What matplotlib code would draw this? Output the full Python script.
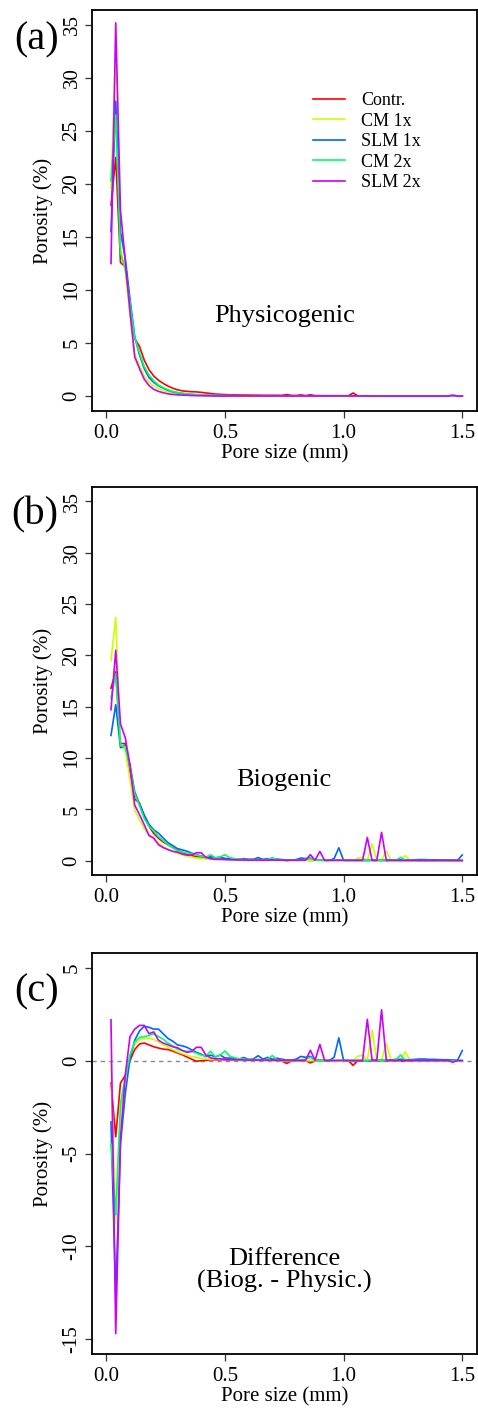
import numpy as np
import matplotlib
matplotlib.use("Agg")
import matplotlib.pyplot as plt

plt.rcParams['font.family'] = ['Liberation Serif', 'DejaVu Serif']
plt.rcParams['axes.unicode_minus'] = False

# pore size classes (mm)
pore_size = [0.02, 0.04, 0.06, 0.08, 0.10, 0.12, 0.14, 0.16, 0.18, 0.20,
             0.22, 0.24, 0.26, 0.28, 0.30, 0.32, 0.34, 0.36, 0.38, 0.40,
             0.42, 0.44, 0.46, 0.48, 0.50, 0.52, 0.54, 0.56, 0.58, 0.60,
             0.62, 0.64, 0.66, 0.68, 0.70, 0.72, 0.74, 0.76, 0.78, 0.80,
             0.82, 0.84, 0.86, 0.88, 0.90, 0.92, 0.94, 0.96, 0.98, 1.00,
             1.02, 1.04, 1.06, 1.08, 1.10, 1.12, 1.14, 1.16, 1.18, 1.20,
             1.22, 1.24, 1.26, 1.28, 1.30, 1.32, 1.34, 1.36, 1.38, 1.40,
             1.42, 1.44, 1.46, 1.48, 1.50]

treatments = ['Contr.', 'CM 1x', 'SLM 1x', 'CM 2x', 'SLM 2x']
colors = ['#FF0000', '#CCFF00', '#0066FF', '#00FF66', '#CC00FF']

# physicogenic porosity (%)
phys_contr = [18.0, 22.5, 12.6, 12.2, 8.6, 5.4, 4.7, 3.4, 2.5, 1.9,
              1.5, 1.2, 0.95, 0.75, 0.6, 0.5, 0.45, 0.42, 0.4, 0.36,
              0.3, 0.25, 0.2, 0.17, 0.15,
              0.13, 0.12, 0.11, 0.1, 0.1, 0.09, 0.09, 0.08, 0.08, 0.08,
              0.08, 0.07, 0.15, 0.07, 0.06, 0.12, 0.05, 0.13, 0.05, 0.05,
              0.04, 0.04, 0.04, 0.04, 0.04, 0.03, 0.3, 0.03, 0.03, 0.03,
              0.03, 0.02, 0.02, 0.02, 0.02, 0.02, 0.02, 0.02, 0.02, 0.02,
              0.01, 0.01, 0.01, 0.01, 0.01, 0.01, 0.01, 0.01, 0.01, 0.01]
phys_cm1 = [19.6, 32.5, 14.0, 11.8, 7.6, 4.0, 2.9, 1.9, 1.3, 0.95,
            0.7, 0.52, 0.4, 0.3, 0.22, 0.17, 0.13, 0.1, 0.08, 0.07,
            0.06, 0.05, 0.05, 0.04, 0.04,
            0.04, 0.03, 0.03, 0.03, 0.03, 0.03, 0.02, 0.02, 0.02, 0.02,
            0.02, 0.02, 0.02, 0.02, 0.02, 0.02, 0.02, 0.02, 0.02, 0.02,
            0.02, 0.02, 0.02, 0.06, 0.08, 0.02, 0.02, 0.01, 0.01, 0.01,
            0.01, 0.01, 0.01, 0.01, 0.01, 0.01, 0.01, 0.01, 0.01, 0.01,
            0.01, 0.01, 0.01, 0.01, 0.01, 0.01, 0.01, 0.01, 0.01, 0.01]
phys_slm1 = [15.5, 27.8, 15.5, 13.0, 9.2, 5.6, 3.9, 2.6, 1.75, 1.3,
             0.98, 0.75, 0.55, 0.42, 0.32, 0.25, 0.2, 0.15, 0.12, 0.1,
             0.08, 0.07, 0.06, 0.05, 0.05,
             0.04, 0.04, 0.03, 0.03, 0.03, 0.03, 0.03, 0.02, 0.02, 0.02,
             0.02, 0.02, 0.02, 0.02, 0.02, 0.02, 0.02, 0.02, 0.02, 0.02,
             0.02, 0.02, 0.02, 0.02, 0.02, 0.02, 0.02, 0.02, 0.02, 0.02,
             0.01, 0.01, 0.01, 0.01, 0.01, 0.01, 0.01, 0.01, 0.01, 0.01,
             0.01, 0.01, 0.01, 0.01, 0.01, 0.01, 0.01, 0.01, 0.01, 0.01]
phys_cm2 = [20.3, 26.5, 13.5, 12.0, 8.8, 5.5, 4.1, 2.8, 2.0, 1.45,
            1.05, 0.8, 0.6, 0.45, 0.35, 0.28, 0.22, 0.18, 0.15, 0.12,
            0.1, 0.08, 0.07, 0.06, 0.05,
            0.05, 0.04, 0.04, 0.03, 0.03, 0.03, 0.03, 0.03, 0.02, 0.02,
            0.02, 0.02, 0.02, 0.02, 0.02, 0.02, 0.02, 0.02, 0.02, 0.02,
            0.02, 0.02, 0.02, 0.02, 0.02, 0.02, 0.02, 0.02, 0.02, 0.02,
            0.01, 0.01, 0.01, 0.01, 0.01, 0.01, 0.01, 0.01, 0.01, 0.01,
            0.01, 0.01, 0.01, 0.01, 0.01, 0.01, 0.01, 0.01, 0.01, 0.01]
phys_slm2 = [12.5, 35.2, 17.5, 12.8, 8.0, 3.7, 2.6, 1.6, 1.0, 0.65,
             0.45, 0.32, 0.22, 0.16, 0.12, 0.1, 0.08, 0.06, 0.05, 0.04,
             0.03, 0.03, 0.02, 0.02, 0.02,
             0.02, 0.02, 0.02, 0.02, 0.02, 0.02, 0.02, 0.02, 0.02, 0.02,
             0.02, 0.02, 0.02, 0.02, 0.02, 0.02, 0.02, 0.02, 0.02, 0.02,
             0.02, 0.02, 0.02, 0.02, 0.02, 0.02, 0.02, 0.02, 0.02, 0.02,
             0.01, 0.01, 0.01, 0.01, 0.01, 0.01, 0.01, 0.01, 0.01, 0.01,
             0.01, 0.01, 0.01, 0.01, 0.01, 0.01, 0.01, 0.1, 0.01, 0.01]

# biogenic porosity (%)
bio_contr = [16.8, 18.4, 11.4, 11.4, 8.6, 6.0, 5.6, 4.35, 3.35, 2.65,
             2.18, 1.82, 1.55, 1.27, 1.02, 0.82, 0.65, 0.5, 0.37, 0.36,
             0.32, 0.3, 0.25, 0.22, 0.2,
             0.17, 0.16, 0.15, 0.13, 0.12, 0.11, 0.12, 0.1, 0.1, 0.09,
             0.08, 0.06, 0.0, 0.05, 0.05, 0.1, 0.05, 0.01, 0.04, 0.05,
             0.04, 0.04, 0.04, 0.04, 0.04, 0.03, 0.05, 0.03, 0.03, 0.03,
             0.03, 0.02, 0.02, 0.02, 0.02, 0.02, 0.02, 0.02, 0.02, 0.02,
             0.01, 0.01, 0.01, 0.01, 0.01, 0.01, 0.01, 0.01, 0.01, 0.01]
bio_cm1 = [19.5, 23.7, 11.2, 10.8, 7.9, 4.9, 4.05, 3.1, 2.5, 2.1,
           1.7, 1.37, 1.12, 0.9, 0.7, 0.55, 0.43, 0.32, 0.26, 0.19,
           0.16, 0.13, 0.15, 0.12, 0.14,
           0.1, 0.08, 0.06, 0.05, 0.05, 0.04, 0.04, 0.03, 0.03, 0.03,
           0.03, 0.02, 0.02, 0.02, 0.02, 0.02, 0.02, 0.02, 0.02, 0.02,
           0.02, 0.02, 0.02, 0.02, 0.03, 0.02, 0.02, 0.25, 0.3, 0.02,
           1.65, 0.02, 0.05, 0.95, 0.02, 0.02, 0.02, 0.5, 0.02, 0.01,
           0.01, 0.01, 0.01, 0.01, 0.01, 0.01, 0.01, 0.01, 0.01, 0.01]
bio_slm1 = [12.2, 15.2, 11.0, 11.2, 9.3, 6.7, 5.5, 4.45, 3.55, 3.0,
            2.68, 2.2, 1.75, 1.47, 1.17, 1.05, 0.92, 0.73, 0.57, 0.45,
            0.3, 0.37, 0.26, 0.35, 0.2,
            0.18, 0.15, 0.12, 0.2, 0.1, 0.12, 0.3, 0.1, 0.2, 0.1,
            0.15, 0.1, 0.05, 0.05, 0.1, 0.25, 0.2, 0.25, 0.05, 0.05,
            0.03, 0.03, 0.2, 1.25, 0.03, 0.03, 0.02, 0.02, 0.02, 0.02,
            0.03, 0.03, 0.03, 0.03, 0.05, 0.08, 0.08, 0.06, 0.06, 0.08,
            0.1, 0.1, 0.08, 0.08, 0.07, 0.06, 0.06, 0.05, 0.03, 0.55]
bio_cm2 = [15.8, 18.2, 11.2, 11.1, 9.1, 6.5, 5.35, 4.1, 3.35, 2.9,
           2.35, 1.95, 1.55, 1.25, 0.97, 0.83, 0.72, 0.68, 0.55, 0.42,
           0.35, 0.58, 0.27, 0.36, 0.57,
           0.3, 0.2, 0.15, 0.1, 0.1, 0.08, 0.1, 0.05, 0.1, 0.3,
           0.05, 0.03, 0.03, 0.03, 0.03, 0.05, 0.1, 0.2, 0.05, 0.03,
           0.03, 0.03, 0.03, 0.03, 0.03, 0.02, 0.02, 0.02, 0.02, 0.02,
           0.02, 0.02, 0.02, 0.02, 0.02, 0.05, 0.32, 0.02, 0.02, 0.02,
           0.01, 0.01, 0.01, 0.01, 0.01, 0.01, 0.01, 0.01, 0.01, 0.01]
bio_slm2 = [14.7, 20.5, 13.3, 12.0, 9.3, 5.4, 4.5, 3.5, 2.45, 2.2,
            1.55, 1.27, 1.07, 0.91, 0.82, 0.65, 0.53, 0.56, 0.77, 0.76,
            0.33, 0.18, 0.12, 0.12, 0.1,
            0.08, 0.07, 0.06, 0.06, 0.05, 0.05, 0.05, 0.05, 0.05, 0.05,
            0.05, 0.05, 0.04, 0.04, 0.04, 0.04, 0.04, 0.58, 0.04, 0.9,
            0.03, 0.03, 0.03, 0.03, 0.03, 0.03, 0.03, 0.03, 0.03, 2.25,
            0.03, 0.03, 2.75, 0.03, 0.03, 0.02, 0.02, 0.02, 0.02, 0.02,
            0.02, 0.02, 0.02, 0.02, 0.02, 0.02, 0.02, 0.02, 0.02, 0.02]

phys = [phys_contr, phys_cm1, phys_slm1, phys_cm2, phys_slm2]
bio = [bio_contr, bio_cm1, bio_slm1, bio_cm2, bio_slm2]
diff = [np.array(b) - np.array(p) for b, p in zip(bio, phys)]

W, H = 478, 1409
fig = plt.figure(figsize=(W / 100, H / 100), dpi=100)


def box(left, top, right, bottom):
    return [left / W, 1 - bottom / H, (right - left) / W, (bottom - top) / H]


ax_a = fig.add_axes(box(92, 10, 476.5, 411))
ax_b = fig.add_axes(box(92, 487, 476.5, 875))
ax_c = fig.add_axes(box(92, 953, 476.5, 1354))


def style(ax, yticks, ylim):
    ax.set_xlim(-0.06, 1.56)
    ax.set_ylim(*ylim)
    ax.set_xticks([0.0, 0.5, 1.0, 1.5])
    ax.set_xticklabels(['0.0', '0.5', '1.0', '1.5'])
    ax.set_yticks(yticks)
    ax.set_yticklabels([str(v) for v in yticks], rotation=90, va='center')
    for s in ax.spines.values():
        s.set_linewidth(1.3)
    ax.tick_params(direction='out', length=5, width=0.9, labelsize=15,
                   color='#333333')
    ax.tick_params(axis='x', pad=4.5)
    ax.tick_params(axis='y', pad=2.5)
    ax.set_xlabel('Pore size (mm)', fontsize=15, labelpad=1)
    ax.set_ylabel('Porosity (%)', fontsize=15, labelpad=7)


for ax, data in [(ax_a, phys), (ax_b, bio)]:
    for vals, c, lab in zip(data, colors, treatments):
        ax.plot(pore_size, vals, color=c, lw=1.2, label=lab)
    style(ax, list(range(0, 36, 5)), (-1.4, 36.4))

ax_c.axhline(0, color='#888888', lw=1.0, ls=(0, (3, 3)))
for vals, c in zip(diff, colors):
    ax_c.plot(pore_size, vals, color=c, lw=1.2)
style(ax_c, [-15, -10, -5, 0, 5], (-15.8, 5.8))

ax_a.legend(loc='upper left', bbox_to_anchor=(0.557, 0.813), frameon=False,
            fontsize=13, handlelength=1.77, handletextpad=0.89,
            labelspacing=0.19, borderaxespad=0)

ax_a.text(0.75, 7.6, 'Physicogenic', fontsize=19, ha='center', va='center')
ax_b.text(0.75, 7.9, 'Biogenic', fontsize=19, ha='center', va='center')
ax_c.text(0.75, -11.3, 'Difference\n(Biog. - Physic.)', fontsize=19,
          ha='center', va='center', linespacing=0.95)

for lab, (px, py) in zip(['(a)', '(b)', '(c)'], [(37, 40), (35, 515), (37, 992)]):
    fig.text(px / W, 1 - py / H, lab, fontsize=29, ha='center', va='center')

fig.savefig('out.png', dpi=100)
